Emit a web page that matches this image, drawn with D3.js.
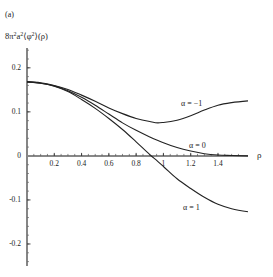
<!DOCTYPE html>
<html><head><meta charset="utf-8">
<script src="https://cdn.jsdelivr.net/npm/d3@7"></script>
<style>body{margin:0;background:#fff}svg{display:block}text{font-family:"Liberation Serif","DejaVu Serif",serif;fill:#222}</style>
</head><body><svg id="c" width="273" height="277"></svg>
<script>
const rho = [0,0.1,0.2,0.3,0.4,0.5,0.6,0.7,0.8,0.9,0.96,1.0,1.1,1.2,1.3,1.4,1.5,1.62];
const alphaM1 = [0.168,0.166,0.160,0.151,0.138,0.124,0.109,0.096,0.085,0.078,0.075,0.076,0.081,0.091,0.104,0.115,0.121,0.125];
const alpha0  = [0.168,0.165,0.159,0.148,0.133,0.115,0.095,0.075,0.058,0.043,0.035,0.030,0.019,0.011,0.005,0.002,0.001,0.000];
const alpha1  = [0.168,0.165,0.158,0.146,0.128,0.108,0.085,0.060,0.032,0.003,-0.013,-0.024,-0.052,-0.074,-0.094,-0.110,-0.120,-0.127];
const xTicks = [0.2,0.4,0.6,0.8,1,1.2,1.4];
const xTickLabels = ["0.2","0.4","0.6","0.8","1","1.2","1.4"];
const yTicks = [0.2,0.1,0,-0.1,-0.2];
const yTickLabels = ["0.2","0.1","0","-0.1","-0.2"];
const seriesLabels = ["α = −1","α = 0","α = 1"];

const svg = d3.select("#c");
const x = d3.scaleLinear().domain([0,1.62]).range([27,248]);
const y = d3.scaleLinear().domain([-0.25,0.245]).range([266,48]);

svg.append("line").attr("x1",x(0)).attr("x2",x(0)).attr("y1",y(0.245)).attr("y2",y(-0.25)).attr("stroke","#222").attr("stroke-width",1.1);
d3.range(-0.24,0.241,0.02).forEach(v=>{
  svg.append("line").attr("x1",x(0)).attr("x2",x(0)+2).attr("y1",y(v)).attr("y2",y(v)).attr("stroke","#666").attr("stroke-width",0.7);
});
yTicks.forEach((v,i)=>{
  svg.append("line").attr("x1",x(0)).attr("x2",x(0)+3.5).attr("y1",y(v)).attr("y2",y(v)).attr("stroke","#333").attr("stroke-width",0.9);
  svg.append("text").attr("x",x(0)-6).attr("y",y(v)+2.5).attr("text-anchor","end").attr("font-size",7.5).text(yTickLabels[i]);
});
svg.append("line").attr("x1",x(0)).attr("x2",x(1.62)).attr("y1",y(0)).attr("y2",y(0)).attr("stroke","#888").attr("stroke-width",2);
d3.range(0.05,1.6,0.05).forEach(v=>{
  svg.append("line").attr("x1",x(v)).attr("x2",x(v)).attr("y1",y(0)-2).attr("y2",y(0)).attr("stroke","#555").attr("stroke-width",0.7);
});
xTicks.forEach((v,i)=>{
  svg.append("line").attr("x1",x(v)).attr("x2",x(v)).attr("y1",y(0)-3).attr("y2",y(0)).attr("stroke","#333").attr("stroke-width",0.9);
  svg.append("text").attr("x",x(v)).attr("y",y(0)+10).attr("text-anchor","middle").attr("font-size",7.5).text(xTickLabels[i]);
});
svg.append("text").attr("x",257).attr("y",y(0)+2).attr("font-size",9).text("ρ");

const line = d3.line().x((d,i)=>x(rho[i])).y(d=>y(d)).curve(d3.curveMonotoneX);
[alphaM1,alpha0,alpha1].forEach(s=>{
  svg.append("path").attr("d",line(s)).attr("fill","none").attr("stroke","#222").attr("stroke-width",1.1);
});

svg.append("text").attr("x",181).attr("y",106).attr("font-size",8).text(seriesLabels[0]);
svg.append("text").attr("x",189).attr("y",148).attr("font-size",8).text(seriesLabels[1]);
svg.append("text").attr("x",183).attr("y",210).attr("font-size",8).text(seriesLabels[2]);

svg.append("text").attr("x",5).attr("y",17).attr("font-size",8).text("(a)");
const yl = svg.append("text").attr("x",5).attr("y",39).attr("font-size",8.5);
yl.append("tspan").text("8π");
yl.append("tspan").attr("dy",-3.5).attr("font-size",6).text("2");
yl.append("tspan").attr("dy",3.5).text("a");
yl.append("tspan").attr("dy",-3.5).attr("font-size",6).text("2");
yl.append("tspan").attr("dy",3.5).text("⟨φ");
yl.append("tspan").attr("dy",-3.5).attr("font-size",6).text("2");
yl.append("tspan").attr("dy",3.5).text("⟩(ρ)");
</script></body></html>
